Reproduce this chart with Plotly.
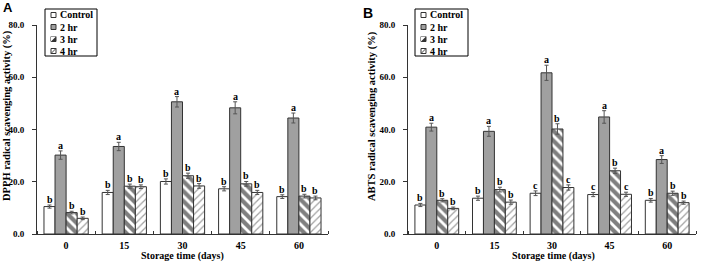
import plotly.graph_objects as go

W, H = 705, 262
ML, MR, MT, MB = 0, 0, 25, 28
PH = H - MT - MB

days = ["0", "15", "30", "45", "60"]
groups = ["Control", "2 hr", "3 hr", "4 hr"]

# DPPH (panel A)
dpph_control = [10.5, 15.9, 20.1, 17.3, 14.3]
dpph_2hr = [30.2, 33.5, 50.6, 48.3, 44.4]
dpph_3hr = [8.2, 18.3, 22.3, 19.2, 14.5]
dpph_4hr = [6.0, 18.1, 18.4, 15.9, 13.8]
dpph_err_control = [0.6, 0.8, 1.0, 0.8, 0.7]
dpph_err_2hr = [1.6, 1.6, 2.0, 2.3, 1.9]
dpph_err_3hr = [0.5, 0.8, 1.0, 0.9, 0.7]
dpph_err_4hr = [0.5, 0.7, 0.9, 0.8, 0.7]
dpph_let_control = ["b", "b", "b", "b", "b"]
dpph_let_2hr = ["a", "a", "a", "a", "a"]
dpph_let_3hr = ["b", "b", "b", "b", "b"]
dpph_let_4hr = ["b", "b", "b", "b", "b"]

# ABTS (panel B)
abts_control = [11.1, 13.7, 15.6, 15.1, 12.9]
abts_2hr = [40.9, 39.3, 61.7, 44.8, 28.5]
abts_3hr = [12.9, 17.0, 40.2, 24.2, 15.6]
abts_4hr = [9.8, 12.2, 17.8, 15.2, 12.0]
abts_err_control = [0.6, 0.8, 0.9, 0.8, 0.7]
abts_err_2hr = [1.5, 1.9, 2.9, 2.4, 1.5]
abts_err_3hr = [0.6, 0.9, 2.0, 1.0, 0.8]
abts_err_4hr = [0.5, 0.8, 1.0, 0.8, 0.6]
abts_let_control = ["b", "b", "c", "c", "b"]
abts_let_2hr = ["a", "a", "a", "a", "a"]
abts_let_3hr = ["b", "b", "b", "b", "b"]
abts_let_4hr = ["b", "b", "c", "c", "b"]

yticks = [0, 20, 40, 60, 80]

SERIF = "Liberation Serif"
DARK = "#333333"
offsets = [-0.285, -0.095, 0.095, 0.285]
bar_w = 0.19

styles = [
    dict(color="white", pattern=None),
    dict(color="#a0a0a0", pattern=None),
    dict(color="white", pattern=dict(shape="\\", fgcolor="black", bgcolor="white", size=7, solidity=0.6)),
    dict(color="white", pattern=dict(shape="/", fgcolor="#444444", bgcolor="white", size=5, solidity=0.25)),
]


def px(x):
    return x / W


def py(y):
    return (H - MB - y) / PH


fig = go.Figure()
annotations = []
shapes = []

panels = [
    ("x", "y", [dpph_control, dpph_2hr, dpph_3hr, dpph_4hr],
     [dpph_err_control, dpph_err_2hr, dpph_err_3hr, dpph_err_4hr],
     [dpph_let_control, dpph_let_2hr, dpph_let_3hr, dpph_let_4hr]),
    ("x2", "y2", [abts_control, abts_2hr, abts_3hr, abts_4hr],
     [abts_err_control, abts_err_2hr, abts_err_3hr, abts_err_4hr],
     [abts_let_control, abts_let_2hr, abts_let_3hr, abts_let_4hr]),
]

for xa, ya, vals, errs, lets in panels:
    for j, g in enumerate(groups):
        xs = [i + offsets[j] for i in range(len(days))]
        st = styles[j]
        marker = dict(color=st["color"], line=dict(color=DARK, width=1))
        if st["pattern"]:
            marker["pattern"] = st["pattern"]
        fig.add_trace(go.Bar(
            x=xs, y=vals[j], width=bar_w, name=g, xaxis=xa, yaxis=ya,
            marker=marker, showlegend=False,
            error_y=dict(type="data", array=errs[j], color="#555555", thickness=1, width=2),
        ))
        for i in range(len(days)):
            annotations.append(dict(
                x=xs[i], y=vals[j][i] + errs[j][i], xref=xa, yref=ya,
                text=lets[j][i], showarrow=False, yanchor="bottom", yshift=-2,
                font=dict(family=SERIF, size=10, color="black", weight="bold"),
            ))

# axes
xdomains = [[px(37), px(328)], [px(408), px(696)]]
for k, (xa_name, ya_name) in enumerate([("xaxis", "yaxis"), ("xaxis2", "yaxis2")]):
    anchor_x = "y" if k == 0 else "y2"
    anchor_y = "x" if k == 0 else "x2"
    fig.update_layout(**{
        xa_name: dict(
            domain=xdomains[k], anchor=anchor_x, range=[-0.5, 4.5],
            tickvals=list(range(len(days))), ticktext=days, ticks="",
            showline=True, linecolor=DARK, linewidth=1, showgrid=False, zeroline=False,
            tickfont=dict(family=SERIF, size=10, color="black", weight="bold"),
            minor=dict(tickvals=[i - 0.5 for i in range(len(days) + 1)], ticks="inside",
                       ticklen=3, tickcolor=DARK, tickwidth=1, showgrid=False),
            ticklabelstandoff=2,
        ),
        ya_name: dict(
            domain=[0, 1], anchor=anchor_y, range=[0, 80],
            tickvals=yticks, tickformat=".1f", ticks="outside", ticklen=4,
            tickcolor=DARK, showline=True, linecolor=DARK, linewidth=1,
            showgrid=False, zeroline=False, ticklabelstandoff=6,
            tickfont=dict(family=SERIF, size=9, color="black", weight="bold"),
        ),
    })

# axis titles
for cx in [182, 553]:
    annotations.append(dict(
        x=px(cx), y=py(256), xref="paper", yref="paper", text="Storage time (days)",
        showarrow=False, xanchor="center", yanchor="middle",
        font=dict(family=SERIF, size=10, color="black", weight="bold"),
    ))
for cx, txt in [(7, "DPPH radical scavenging activity (%)"), (372, "ABTS radical scavenging activity (%)")]:
    annotations.append(dict(
        x=px(cx), y=py(116), xref="paper", yref="paper", text=txt, textangle=-90,
        showarrow=False, xanchor="center", yanchor="middle",
        font=dict(family=SERIF, size=10.5, color="black", weight="bold"),
    ))

# panel labels
annotations.append(dict(x=px(1), y=py(8), xref="paper", yref="paper", text="A",
                        showarrow=False, xanchor="left", yanchor="middle",
                        font=dict(family="Liberation Sans", size=13, color="black", weight="bold")))
annotations.append(dict(x=px(368), y=py(13), xref="paper", yref="paper", text="B",
                        showarrow=False, xanchor="center", yanchor="middle",
                        font=dict(family="Liberation Sans", size=14, color="black", weight="bold")))

# custom compact legends
for bx0, bx1 in [(45, 97), (415, 468)]:
    shapes.append(dict(type="rect", xref="paper", yref="paper",
                       x0=px(bx0), x1=px(bx1), y0=py(56), y1=py(9),
                       line=dict(color="black", width=1), fillcolor="white", layer="above"))
    rows = [15, 27, 39, 51]
    for j, g in enumerate(groups):
        ry = rows[j]
        sx0, sx1 = bx0 + 6, bx0 + 11
        fill = ["white", "#a0a0a0", "#333333", "white"][j]
        shapes.append(dict(type="rect", xref="paper", yref="paper",
                           x0=px(sx0), x1=px(sx1), y0=py(ry + 2.5), y1=py(ry - 2.5),
                           line=dict(color=DARK, width=1), fillcolor=fill, layer="above"))
        if j == 2:
            shapes.append(dict(type="path", xref="paper", yref="paper", layer="above",
                               path=f"M {px(sx0)},{py(ry + 2.5)} L {px(sx1)},{py(ry - 2.5)} L {px(sx0)},{py(ry - 2.5)} Z",
                               fillcolor="white", line=dict(width=0)))
        if j == 3:
            shapes.append(dict(type="line", xref="paper", yref="paper", layer="above",
                               x0=px(sx0), y0=py(ry + 2.5), x1=px(sx1), y1=py(ry - 2.5),
                               line=dict(color="#444444", width=1)))
        annotations.append(dict(x=px(bx0 + 13), y=py(ry), xref="paper", yref="paper", text=g,
                                showarrow=False, xanchor="left", yanchor="middle",
                                font=dict(family=SERIF, size=10, color="black", weight="bold")))

fig.update_layout(
    width=W, height=H, margin=dict(l=ML, r=MR, t=MT, b=MB),
    paper_bgcolor="white", plot_bgcolor="white",
    barmode="overlay", showlegend=False,
    annotations=annotations, shapes=shapes,
)

fig.write_html("out.html")
